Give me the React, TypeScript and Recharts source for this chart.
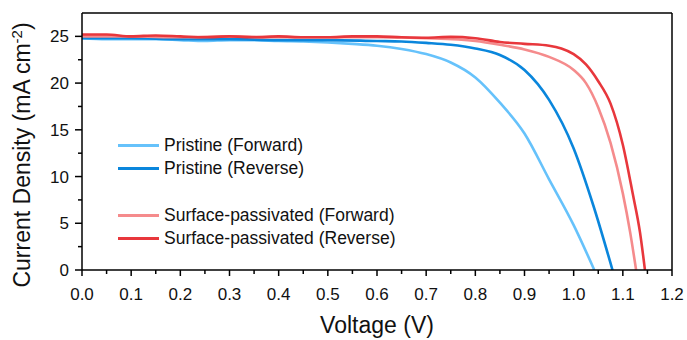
import React from 'react';
import { LineChart, Line, XAxis, YAxis, ReferenceLine, Legend } from 'recharts';

// Pristine (Forward)
const pfV = [0, 0.05, 0.1, 0.15, 0.2, 0.25, 0.3, 0.35, 0.4, 0.45, 0.5, 0.55, 0.6, 0.65, 0.7, 0.75, 0.8, 0.85, 0.9, 0.95, 1.0, 1.042];
const pfJ = [24.8, 24.7, 24.7, 24.7, 24.6, 24.5, 24.6, 24.6, 24.5, 24.45, 24.35, 24.2, 24.0, 23.65, 23.1, 22.2, 20.6, 17.9, 14.6, 9.7, 4.8, 0];

// Pristine (Reverse)
const prV = [0, 0.1, 0.2, 0.3, 0.4, 0.5, 0.6, 0.65, 0.7, 0.75, 0.8, 0.85, 0.9, 0.95, 1.0, 1.04, 1.079];
const prJ = [24.8, 24.8, 24.7, 24.7, 24.6, 24.6, 24.5, 24.45, 24.3, 24.1, 23.7, 23.0, 21.4, 18.2, 13.0, 6.9, 0];

// Surface-passivated (Forward)
const sfV = [0, 0.1, 0.2, 0.3, 0.4, 0.5, 0.6, 0.7, 0.8, 0.85, 0.9, 0.95, 1.0, 1.025, 1.05, 1.075, 1.1, 1.115, 1.127];
const sfJ = [25.0, 25.0, 24.9, 25.0, 24.9, 24.9, 24.9, 24.8, 24.5, 24.1, 23.6, 22.8, 21.4, 20.0, 17.4, 13.6, 8.2, 4.0, 0];

// Surface-passivated (Reverse)
const srV = [0, 0.05, 0.1, 0.15, 0.2, 0.25, 0.3, 0.35, 0.4, 0.45, 0.5, 0.55, 0.6, 0.65, 0.7, 0.75, 0.8, 0.85, 0.9, 0.95, 0.975, 1.0, 1.025, 1.05, 1.075, 1.1, 1.12, 1.135, 1.145];
const srJ = [25.2, 25.2, 25.0, 25.1, 25.0, 24.9, 25.0, 24.9, 25.0, 24.9, 24.9, 25.0, 25.0, 24.9, 24.85, 24.95, 24.8, 24.4, 24.2, 24.0, 23.7, 23.1, 22.0, 20.2, 17.8, 13.4, 8.2, 4.0, 0];

const xTicks = [0, 0.05, 0.1, 0.15, 0.2, 0.25, 0.3, 0.35, 0.4, 0.45, 0.5, 0.55, 0.6, 0.65, 0.7, 0.75, 0.8, 0.85, 0.9, 0.95, 1.0, 1.05, 1.1, 1.15, 1.2];
const yTicks = [0, 2.5, 5, 7.5, 10, 12.5, 15, 17.5, 20, 22.5, 25];

const toPoints = (vs: number[], js: number[]) => vs.map((v, i) => ({ v, j: js[i] }));

const series = [
  { name: 'Pristine (Forward)', color: '#66c2fb', data: toPoints(pfV, pfJ) },
  { name: 'Pristine (Reverse)', color: '#0a86dc', data: toPoints(prV, prJ) },
  { name: 'Surface-passivated (Forward)', color: '#f58b8c', data: toPoints(sfV, sfJ) },
  { name: 'Surface-passivated (Reverse)', color: '#e8373c', data: toPoints(srV, srJ) },
];

const FONT = 'Arial, "Liberation Sans", sans-serif';

const XTick = ({ x, y, payload }: any) => {
  const v = payload.value;
  const major = Math.round(v * 100) % 10 === 0;
  return (
    <g>
      <line x1={x} y1={y} x2={x} y2={y + (major ? 6 : 4)} stroke="#000" strokeWidth={1.5} />
      {major && (
        <text x={x} y={y + 30} textAnchor="middle" fontSize={17} fontFamily={FONT} fill="#111">
          {v.toFixed(1)}
        </text>
      )}
    </g>
  );
};

const YTick = ({ x, y, payload }: any) => {
  const v = payload.value;
  const major = v % 5 === 0;
  return (
    <g>
      <line x1={x} y1={y} x2={x - (major ? 7 : 4)} y2={y} stroke="#000" strokeWidth={1.5} />
      {major && (
        <text x={x - 13} y={y} dy="0.36em" textAnchor="end" fontSize={17} fontFamily={FONT} fill="#111">
          {v}
        </text>
      )}
    </g>
  );
};

const renderLegend = () => (
  <div style={{ fontFamily: FONT, fontSize: 17.5, color: '#111' }}>
    {series.map((s, i) => (
      <div
        key={s.name}
        style={{ display: 'flex', alignItems: 'center', height: 23, marginTop: i === 2 ? 24 : 0 }}
      >
        <div style={{ width: 41, height: 3, background: s.color, marginRight: 5 }} />
        <span>{s.name}</span>
      </div>
    ))}
  </div>
);

const YTitle = () => (
  <text
    x={0}
    y={0}
    transform="translate(30, 155) rotate(-90)"
    textAnchor="middle"
    fontSize={23}
    fontFamily={FONT}
    fill="#111"
  >
    Current Density (mA cm
    <tspan dy={-8} fontSize={15}>-2</tspan>
    <tspan dy={8}>)</tspan>
  </text>
);

export default function App() {
  return (
    <div style={{ position: 'absolute', left: 0, top: 0, width: 687, height: 340, background: '#fff' }}>
      <LineChart width={687} height={340} margin={{ top: 13, right: 15, left: 0, bottom: 0 }}>
        <XAxis
          type="number"
          dataKey="v"
          domain={[0, 1.2]}
          ticks={xTicks}
          interval={0}
          tickSize={0}
          tickMargin={0}
          tickLine={false}
          tick={<XTick />}
          height={70}
          axisLine={{ stroke: '#000', strokeWidth: 1.5 }}
          allowDataOverflow
          label={{ value: 'Voltage (V)', position: 'insideBottom', offset: 7, fontSize: 23, fontFamily: FONT, fill: '#111' }}
        />
        <YAxis
          type="number"
          domain={[0, 27.5]}
          ticks={yTicks}
          interval={0}
          tickSize={0}
          tickMargin={0}
          tickLine={false}
          tick={<YTick />}
          width={82}
          axisLine={{ stroke: '#000', strokeWidth: 1.5 }}
          allowDataOverflow
          label={<YTitle />}
        />
        <ReferenceLine y={27.5} stroke="#000" strokeWidth={1.5} />
        <ReferenceLine x={1.2} stroke="#000" strokeWidth={1.5} />
        <Legend
          content={renderLegend}
          layout="vertical"
          align="center"
          verticalAlign="middle"
          wrapperStyle={{ left: 118, top: 134, width: 'auto' }}
        />
        {series.map((s) => (
          <Line
            key={s.name}
            data={s.data}
            dataKey="j"
            name={s.name}
            type="monotone"
            stroke={s.color}
            strokeWidth={2.6}
            dot={false}
            isAnimationActive={false}
          />
        ))}
      </LineChart>
    </div>
  );
}
